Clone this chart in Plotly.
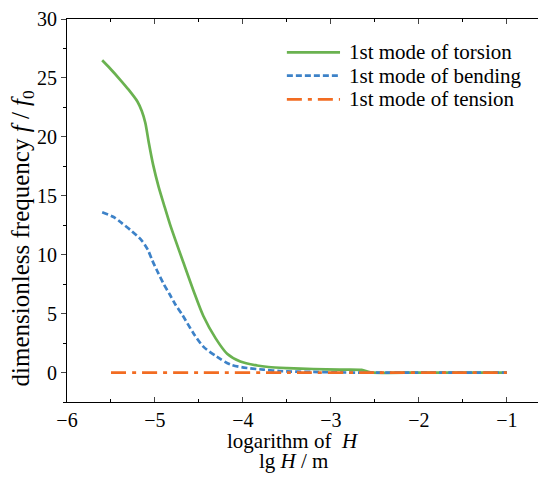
import plotly.graph_objects as go

# ---- data ----
torsion_x = [-5.60, -5.51, -5.39, -5.30, -5.20, -5.15, -5.11, -5.07, -5.02, -4.96, -4.90,
             -4.83, -4.68, -4.56, -4.45, -4.31, -4.18, -4.03, -3.84, -3.71,
             -3.50, -3.20, -2.90, -2.65, -2.55, -2.0, -1.5, -1.0]
torsion_y = [26.5, 25.8, 24.8, 24.0, 23.0, 22.2, 21.2, 19.5, 17.6, 15.8, 14.3,
             12.6, 9.4, 6.9, 4.8, 2.9, 1.6, 0.94, 0.6, 0.47,
             0.38, 0.3, 0.25, 0.22, 0.02, 0.0, 0.0, 0.0]

bending_x = [-5.60, -5.47, -5.38, -5.28, -5.15, -5.08, -5.03, -4.98, -4.90, -4.83, -4.77,
             -4.69, -4.56, -4.45, -4.30, -4.14, -3.95, -3.77, -3.58, -3.20, -2.8,
             -2.0, -1.5, -1.0]
bending_y = [13.6, 13.2, 12.7, 12.1, 11.2, 10.4, 9.5, 8.7, 7.5, 6.6, 5.8,
             4.9, 3.3, 2.2, 1.36, 0.67, 0.38, 0.25, 0.12, 0.05, 0.0,
             0.0, 0.0, 0.0]

tension_x = [-5.50, -4.5, -3.5, -2.5, -1.5, -1.0]
tension_y = [0.0, 0.0, 0.0, 0.0, 0.0, 0.0]

series_names = ["1st mode of torsion", "1st mode of bending", "1st mode of tension"]
colors = ["#6ab250", "#3d82c8", "#f26c22"]
dashes = ["solid", "6px,3px", "15px,6px,4px,6px"]

x_ticks = [-6, -5, -4, -3, -2, -1]
y_ticks = [0, 5, 10, 15, 20, 25, 30]

FONT = "Liberation Serif"

fig = go.Figure()
for xs, ys, c, d, n in [(torsion_x, torsion_y, colors[0], dashes[0], series_names[0]),
                        (bending_x, bending_y, colors[1], dashes[1], series_names[1]),
                        (tension_x, tension_y, colors[2], dashes[2], series_names[2])]:
    fig.add_trace(go.Scatter(x=xs, y=ys, mode="lines", name=n, showlegend=False,
                             line=dict(color=c, width=2.7, dash=d, shape="spline", smoothing=0.8)))

fig.update_layout(
    width=538, height=471,
    margin=dict(l=59, r=0, t=3, b=77),
    paper_bgcolor="white", plot_bgcolor="white",
    font=dict(family=FONT, size=20, color="black"),
    xaxis=dict(range=[-6, -0.555], tickvals=x_ticks, ticks="inside", ticklen=5, tickwidth=1.2,
               showline=True, linecolor="black", linewidth=1.2, mirror="ticks",
               showgrid=False, zeroline=False, ticklabeloverflow="allow",
               minor=dict(dtick=0.5, ticks="inside", ticklen=3, tickcolor="black", showgrid=False),
               tickfont=dict(family=FONT, size=20, color="black")),
    yaxis=dict(range=[-2.5, 30], tickvals=y_ticks, ticks="outside", ticklen=5, tickwidth=1.2,
               showline=True, linecolor="black", linewidth=1.2, mirror=False,
               showgrid=False, zeroline=False, ticklabeloverflow="allow",
               minor=dict(dtick=2.5, ticks="outside", ticklen=3, tickcolor="black", showgrid=False),
               tickfont=dict(family=FONT, size=20, color="black")),
    yaxis2=dict(range=[-2.5, 30], overlaying="y", side="right", tickvals=y_ticks,
                ticks="inside", ticklen=4, showticklabels=False, showline=False,
                showgrid=False, zeroline=False,
                minor=dict(dtick=2.5, ticks="inside", ticklen=3, tickcolor="black", showgrid=False)),
)

# Axis titles
fig.add_annotation(text="dimensionless frequency <i>f</i> / <i>f</i><sub>0</sub>",
                   xref="paper", yref="paper", x=-0.094, y=0.427, textangle=-90,
                   showarrow=False, xanchor="center", yanchor="middle",
                   font=dict(family=FONT, size=25))
fig.add_annotation(text="logarithm of  <i>H</i>",
                   xref="paper", yref="paper", x=0.4708, y=-0.1023,
                   showarrow=False, xanchor="center", yanchor="middle",
                   font=dict(family=FONT, size=21))
fig.add_annotation(text="lg <i>H</i> / m",
                   xref="paper", yref="paper", x=0.4729, y=-0.1535,
                   showarrow=False, xanchor="center", yanchor="middle",
                   font=dict(family=FONT, size=21))

# Custom legend
leg_y = [0.913, 0.852, 0.790]
for name, c, d, yy in zip(series_names, colors, dashes, leg_y):
    fig.add_shape(type="line", xref="paper", yref="paper", x0=0.459, x1=0.570, y0=yy, y1=yy,
                  line=dict(color=c, width=2.7, dash=d))
    fig.add_annotation(text=name, xref="paper", yref="paper", x=0.5846, y=yy,
                       showarrow=False, xanchor="left", yanchor="middle",
                       font=dict(family=FONT, size=21))

fig.write_html("out.html")
